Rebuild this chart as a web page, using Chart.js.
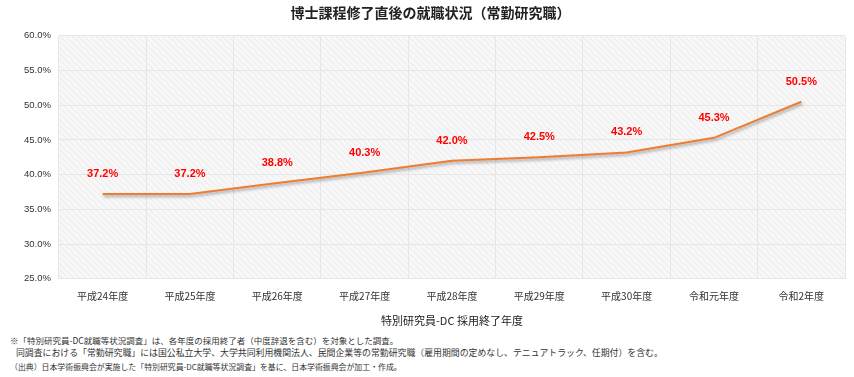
<!DOCTYPE html>
<html>
<head>
<meta charset="utf-8">
<script src="https://cdn.jsdelivr.net/npm/chart.js@4.4.1/dist/chart.umd.min.js"></script>
<style>
    body { margin: 0; background: #fff; font-family: "Noto Sans CJK JP", sans-serif; }
    #wrap { position: relative; width: 854px; height: 377px; }
    #chartBox { position: absolute; left: 0; top: 0; width: 854px; height: 327px; }
    .note { position: absolute; left: 10px; color: #333; white-space: nowrap; }
</style>
</head>
<body>
<div id="wrap">
    <div id="chartBox"><canvas id="jobChart"></canvas></div>
    <div class="note" style="top:334px; font-size:8.5px;">※「特別研究員-DC就職等状況調査」は、各年度の採用終了者（中度辞退を含む）を対象とした調査。</div>
    <div class="note" style="top:346px; font-size:8.9px;">&nbsp;&nbsp;&nbsp;同調査における「常勤研究職」には国公私立大学、大学共同利用機関法人、民間企業等の常勤研究職（雇用期間の定めなし、テニュアトラック、任期付）を含む。</div>
    <div class="note" style="top:361px; font-size:7.9px;">（出典）日本学術振興会が実施した「特別研究員-DC就職等状況調査」を基に、日本学術振興会が加工・作成。</div>
</div>
<script>
const years = ['平成24年度', '平成25年度', '平成26年度', '平成27年度', '平成28年度', '平成29年度', '平成30年度', '令和元年度', '令和2年度'];
const rates = [37.2, 37.2, 38.8, 40.3, 42.0, 42.5, 43.2, 45.3, 50.5];
const yTicks = [25, 30, 35, 40, 45, 50, 55, 60];

const jpFont = '"Noto Sans CJK JP", sans-serif';

// 斜線の背景パターン
function makeHatch() {
    const c = document.createElement('canvas');
    c.width = 6;
    c.height = 6;
    const g = c.getContext('2d');
    g.fillStyle = '#f7f7f7';
    g.fillRect(0, 0, 6, 6);
    g.strokeStyle = '#ebebeb';
    g.lineWidth = 1;
    g.beginPath();
    g.moveTo(0, 0); g.lineTo(6, 6);
    g.moveTo(-3, 3); g.lineTo(3, 9);
    g.moveTo(3, -3); g.lineTo(9, 3);
    g.stroke();
    return g.createPattern(c, 'repeat');
}

const hatchBg = {
    id: 'hatchBg',
    beforeDraw(chart) {
        const { ctx, chartArea: a } = chart;
        ctx.save();
        ctx.fillStyle = makeHatch();
        ctx.fillRect(a.left, a.top, a.right - a.left, a.bottom - a.top);
        ctx.restore();
    }
};

// 線の影
const lineShadow = {
    id: 'lineShadow',
    beforeDatasetDraw(chart) {
        const ctx = chart.ctx;
        ctx.save();
        ctx.shadowColor = 'rgba(0,0,0,0.35)';
        ctx.shadowBlur = 3;
        ctx.shadowOffsetX = 1;
        ctx.shadowOffsetY = 2;
    },
    afterDatasetDraw(chart) {
        chart.ctx.restore();
    }
};

// 数値ラベル
const valueLabels = {
    id: 'valueLabels',
    afterDatasetsDraw(chart) {
        const ctx = chart.ctx;
        const meta = chart.getDatasetMeta(0);
        ctx.save();
        ctx.font = 'bold 11px "Liberation Sans", Arial, sans-serif';
        ctx.fillStyle = '#ff0000';
        ctx.textAlign = 'center';
        ctx.textBaseline = 'middle';
        meta.data.forEach((pt, i) => {
            ctx.fillText(rates[i].toFixed(1) + '%', pt.x, pt.y - 20);
        });
        ctx.restore();
    }
};

const ctx = document.getElementById('jobChart').getContext('2d');

new Chart(ctx, {
    type: 'line',
    data: {
        labels: years,
        datasets: [
            {
                data: rates,
                borderColor: '#ed7d31',
                borderWidth: 2,
                pointRadius: 0,
                tension: 0,
                fill: false
            }
        ]
    },
    options: {
        responsive: true,
        maintainAspectRatio: false,
        animation: false,
        layout: { padding: { left: 16, right: 9, top: 0, bottom: 0 } },
        plugins: {
            legend: { display: false },
            tooltip: { enabled: false },
            title: {
                display: true,
                text: '博士課程修了直後の就職状況（常勤研究職）',
                color: '#222',
                font: { family: jpFont, size: 14, weight: 'bold' },
                padding: { top: 4, bottom: 15 }
            }
        },
        scales: {
            x: {
                offset: true,
                grid: { offset: true, color: '#e6e6e6', drawTicks: false },
                border: { display: false },
                ticks: {
                    color: '#333',
                    font: { family: jpFont, size: 10 },
                    padding: 11,
                    maxRotation: 0
                },
                title: {
                    display: true,
                    text: '特別研究員-DC 採用終了年度',
                    color: '#222',
                    font: { family: jpFont, size: 11 },
                    padding: { top: 1, bottom: 0 }
                }
            },
            y: {
                min: yTicks[0],
                max: yTicks[yTicks.length - 1],
                afterBuildTicks(axis) {
                    axis.ticks = yTicks.map(v => ({ value: v }));
                },
                grid: { color: '#e6e6e6', drawTicks: false },
                border: { display: false },
                ticks: {
                    color: '#333',
                    font: { family: '"Liberation Sans", Arial, sans-serif', size: 9.5 },
                    padding: 8,
                    callback: value => value.toFixed(1) + '%'
                }
            }
        }
    },
    plugins: [hatchBg, lineShadow, valueLabels]
});
</script>
</body>
</html>
